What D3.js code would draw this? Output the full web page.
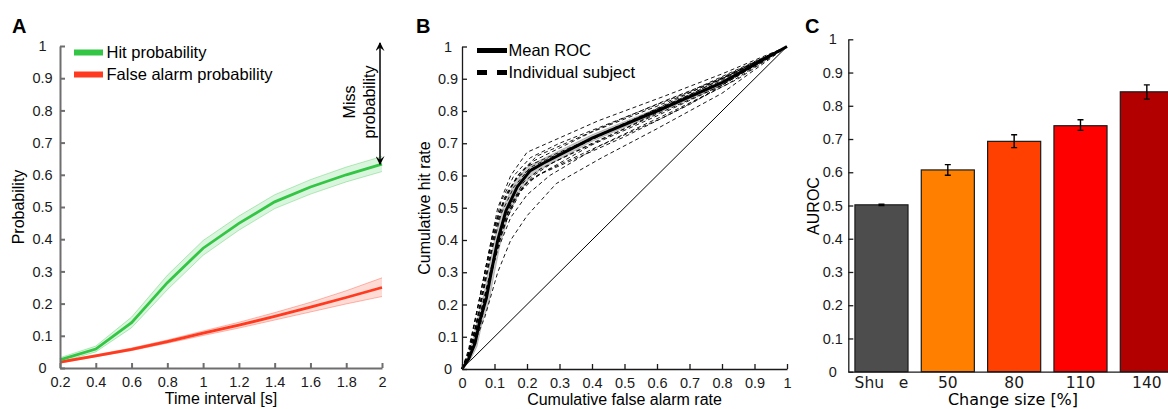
<!DOCTYPE html>
<html>
<head>
<meta charset="utf-8">
<script src="https://cdn.jsdelivr.net/npm/d3@7"></script>
<style>
  html, body { margin: 0; padding: 0; background: #fff; }
  svg { display: block; font-family: "Liberation Sans", Arial, sans-serif; }
</style>
</head>
<body>
<svg id="fig" width="1168" height="409"></svg>
<script>
// ---------- Panel A: detection probabilities over time ----------
const timeIntervals = [0.2, 0.4, 0.6, 0.8, 1.0, 1.2, 1.4, 1.6, 1.8, 2.0];
const hitProb   = [0.025, 0.059, 0.141, 0.265, 0.372, 0.449, 0.516, 0.562, 0.600, 0.633];
const hitLow    = [0.018, 0.050, 0.125, 0.243, 0.350, 0.428, 0.495, 0.540, 0.578, 0.610];
const hitHigh   = [0.032, 0.068, 0.158, 0.288, 0.396, 0.472, 0.538, 0.585, 0.624, 0.657];
const faProb    = [0.018, 0.038, 0.058, 0.082, 0.108, 0.133, 0.160, 0.189, 0.219, 0.250];
const faLow     = [0.015, 0.035, 0.054, 0.077, 0.101, 0.124, 0.149, 0.174, 0.199, 0.222];
const faHigh    = [0.021, 0.041, 0.062, 0.087, 0.115, 0.142, 0.172, 0.204, 0.240, 0.280];
const timeTicks = [0.2, 0.4, 0.6, 0.8, 1, 1.2, 1.4, 1.6, 1.8, 2];
const probTicks = [0, 0.1, 0.2, 0.3, 0.4, 0.5, 0.6, 0.7, 0.8, 0.9, 1];
const legendA   = ["Hit probability", "False alarm probability"];

// ---------- Panel B: ROC curves ([false alarm rate, hit rate]) ----------
const meanRoc = [[0,0],[0.02,0.03],[0.04,0.08],[0.055,0.15],[0.075,0.22],[0.09,0.3],[0.11,0.4],
  [0.135,0.49],[0.17,0.565],[0.21,0.615],[0.25,0.638],[0.4,0.716],[0.6,0.8],[0.8,0.888],[1,1]];
const meanRocUpper = [[0,0],[0.016,0.035],[0.034,0.09],[0.049,0.16],[0.068,0.235],[0.083,0.315],[0.103,0.415],
  [0.127,0.503],[0.162,0.578],[0.203,0.628],[0.245,0.65],[0.4,0.726],[0.6,0.808],[0.8,0.894],[1,1]];
const meanRocLower = [[0,0],[0.024,0.025],[0.046,0.07],[0.061,0.14],[0.082,0.205],[0.097,0.285],[0.117,0.385],
  [0.143,0.477],[0.178,0.552],[0.217,0.602],[0.255,0.626],[0.4,0.706],[0.6,0.792],[0.8,0.882],[1,1]];
const subject01 = [[0,0],[0.02,0.05],[0.05,0.2],[0.08,0.35],[0.11,0.5],[0.15,0.6],[0.2,0.672],[0.42,0.77],[0.62,0.845],[0.8,0.915],[1,1]];
const subject02 = [[0,0],[0.03,0.06],[0.07,0.16],[0.11,0.3],[0.15,0.4],[0.2,0.475],[0.29,0.575],[0.43,0.655],[0.6,0.745],[0.8,0.855],[1,1]];
const subject03 = [[0,0],[0.02,0.04],[0.05,0.17],[0.08,0.32],[0.1,0.42],[0.13,0.52],[0.17,0.6],[0.22,0.645],[0.4,0.735],[0.6,0.815],[0.8,0.9],[1,1]];
const subject04 = [[0,0],[0.025,0.05],[0.06,0.18],[0.09,0.3],[0.12,0.42],[0.15,0.51],[0.19,0.58],[0.24,0.62],[0.4,0.7],[0.6,0.79],[0.8,0.88],[1,1]];
const subject05 = [[0,0],[0.02,0.05],[0.045,0.14],[0.07,0.26],[0.095,0.38],[0.12,0.48],[0.16,0.565],[0.21,0.625],[0.26,0.65],[0.45,0.74],[0.7,0.85],[1,1]];
const subject06 = [[0,0],[0.03,0.06],[0.065,0.2],[0.095,0.32],[0.125,0.43],[0.16,0.52],[0.2,0.58],[0.26,0.615],[0.45,0.705],[0.65,0.8],[0.85,0.9],[1,1]];
const subject07 = [[0,0],[0.02,0.04],[0.04,0.12],[0.06,0.23],[0.085,0.36],[0.11,0.47],[0.14,0.55],[0.18,0.61],[0.23,0.66],[0.42,0.745],[0.62,0.83],[0.82,0.91],[1,1]];
const subject08 = [[0,0],[0.03,0.05],[0.06,0.15],[0.085,0.27],[0.11,0.38],[0.14,0.47],[0.18,0.55],[0.23,0.6],[0.3,0.63],[0.5,0.72],[0.7,0.82],[1,1]];
const subject09 = [[0,0],[0.02,0.06],[0.05,0.2],[0.075,0.32],[0.1,0.44],[0.13,0.53],[0.17,0.595],[0.23,0.63],[0.45,0.735],[0.7,0.85],[1,1]];
const subject10 = [[0,0],[0.025,0.04],[0.05,0.13],[0.08,0.27],[0.1,0.36],[0.13,0.46],[0.17,0.54],[0.22,0.6],[0.28,0.64],[0.5,0.745],[0.75,0.87],[1,1]];
const subject11 = [[0,0],[0.02,0.05],[0.05,0.16],[0.075,0.29],[0.1,0.41],[0.12,0.5],[0.16,0.58],[0.2,0.628],[0.25,0.65],[0.5,0.76],[0.75,0.88],[1,1]];
const subject12 = [[0,0],[0.03,0.07],[0.06,0.19],[0.09,0.31],[0.115,0.41],[0.145,0.5],[0.19,0.57],[0.25,0.61],[0.4,0.695],[0.6,0.785],[0.8,0.88],[1,1]];
const subject13 = [[0,0],[0.02,0.05],[0.045,0.17],[0.07,0.3],[0.095,0.42],[0.12,0.52],[0.16,0.6],[0.21,0.655],[0.3,0.7],[0.5,0.78],[0.7,0.86],[1,1]];
const subject14 = [[0,0],[0.025,0.05],[0.055,0.16],[0.08,0.26],[0.11,0.37],[0.15,0.47],[0.2,0.54],[0.27,0.6],[0.42,0.69],[0.62,0.78],[0.82,0.885],[1,1]];
const subjects = [subject01, subject02, subject03, subject04, subject05, subject06, subject07,
  subject08, subject09, subject10, subject11, subject12, subject13, subject14];
const chanceLine = [[0,0],[1,1]];
const rateTicks = [0, 0.1, 0.2, 0.3, 0.4, 0.5, 0.6, 0.7, 0.8, 0.9, 1];
const legendB = ["Mean ROC", "Individual subject"];

// ---------- Panel C: area under ROC per change size ----------
const changeSizes = ["Shuffle", "50", "80", "110", "140"];
const changeTickLabels = ["Shu   e", "50", "80", "110", "140"];
const aurocMean = [0.502, 0.607, 0.693, 0.740, 0.842];
const aurocLow  = [0.500, 0.591, 0.674, 0.726, 0.820];
const aurocHigh = [0.504, 0.623, 0.713, 0.758, 0.863];
const barColors = ["#4d4d4d", "#ff8000", "#ff4000", "#ff0000", "#b20000"];
const aurocTicks = [0, 0.1, 0.2, 0.3, 0.4, 0.5, 0.6, 0.7, 0.8, 0.9, 1];

const svg = d3.select("#fig");
const fmt = d => (Number.isInteger(d) ? String(d) : d.toFixed(1));
const GREEN = "#33c544", RED = "#ff3a1e";

function styleAxis(g, color, width, size) {
  g.select(".domain").attr("stroke", color).attr("stroke-width", width);
  g.selectAll(".tick line").attr("stroke", color).attr("stroke-width", width);
  g.selectAll(".tick text").attr("fill", "#1a1a1a").attr("font-size", size)
    .attr("font-family", "'Liberation Sans', Arial, sans-serif");
}
// y tick labels are centred in a column left of the axis
function centreYLabels(g, offset) {
  g.selectAll(".tick text").attr("text-anchor", "middle").attr("x", -offset);
}

function panelLetter(x, y, t) {
  svg.append("text").attr("x", x).attr("y", y).text(t)
    .attr("font-size", 20).attr("font-weight", "bold").attr("fill", "#000");
}

// ================= Panel A =================
{
  const x = d3.scaleLinear().domain([0.2, 2]).range([60, 382]);
  const y = d3.scaleLinear().domain([0, 1]).range([368, 46]);
  const g = svg.append("g");

  const area = (lo, hi) => d3.area()
    .x((d, i) => x(timeIntervals[i])).y0((d, i) => y(lo[i])).y1((d, i) => y(hi[i]));
  const line = vals => d3.line().x((d, i) => x(timeIntervals[i])).y((d, i) => y(vals[i]));

  [[hitLow, hitHigh, GREEN], [faLow, faHigh, RED]].forEach(([lo, hi, c]) => {
    g.append("path").datum(lo).attr("d", area(lo, hi)).attr("fill", c).attr("fill-opacity", 0.18);
    g.append("path").datum(lo).attr("d", line(lo)).attr("fill", "none").attr("stroke", c).attr("stroke-opacity", 0.35).attr("stroke-width", 1);
    g.append("path").datum(hi).attr("d", line(hi)).attr("fill", "none").attr("stroke", c).attr("stroke-opacity", 0.35).attr("stroke-width", 1);
  });
  g.append("path").datum(faProb).attr("d", line(faProb)).attr("fill", "none").attr("stroke", RED).attr("stroke-width", 2.8);
  g.append("path").datum(hitProb).attr("d", line(hitProb)).attr("fill", "none").attr("stroke", GREEN).attr("stroke-width", 2.8);

  const ax = g.append("g").attr("transform", "translate(0,368)")
    .call(d3.axisBottom(x).tickValues(timeTicks).tickFormat(fmt).tickSizeInner(-5).tickSizeOuter(0).tickPadding(9));
  styleAxis(ax, "#6e6e6e", 2, 14.5);
  const ay = g.append("g").attr("transform", "translate(60,0)")
    .call(d3.axisLeft(y).tickValues(probTicks).tickFormat(fmt).tickSizeInner(-5).tickSizeOuter(0));
  styleAxis(ay, "#6e6e6e", 2, 14.5);
  centreYLabels(ay, 17.5);

  g.append("text").attr("x", 221).attr("y", 404).attr("text-anchor", "middle")
    .attr("font-size", 16).text("Time interval [s]");
  g.append("text").attr("transform", "translate(24,207) rotate(-90)").attr("text-anchor", "middle")
    .attr("font-size", 16).text("Probability");

  // legend
  [[GREEN, 52.5], [RED, 74.5]].forEach(([c, yy], i) => {
    g.append("line").attr("x1", 74).attr("x2", 103).attr("y1", yy).attr("y2", yy)
      .attr("stroke", c).attr("stroke-width", 6);
    g.append("text").attr("x", 106.5).attr("y", yy + 5.8).attr("font-size", 16.5).text(legendA[i]);
  });

  // miss-probability arrow from the last hit value up to 1
  const ax2 = x(2) - 2;
  const defs = svg.append("defs");
  defs.append("marker").attr("id", "arrowHead").attr("viewBox", "0 0 10 10").attr("refX", 9).attr("refY", 5)
    .attr("markerWidth", 9).attr("markerHeight", 9).attr("markerUnits", "userSpaceOnUse").attr("orient", "auto-start-reverse")
    .append("path").attr("d", "M0,0 L10,5 L0,10 L4,5 Z").attr("fill", "#000");
  g.append("line").attr("x1", ax2).attr("x2", ax2).attr("y1", y(1) - 3).attr("y2", y(hitProb[hitProb.length - 1]))
    .attr("stroke", "#000").attr("stroke-width", 1.5)
    .attr("marker-start", "url(#arrowHead)").attr("marker-end", "url(#arrowHead)");
  const missT = g.append("text").attr("transform", "translate(357,102) rotate(-90)").attr("text-anchor", "middle").attr("font-size", 16);
  missT.append("tspan").attr("x", 0).attr("dy", "-0.1em").text("Miss");
  missT.append("tspan").attr("x", 0).attr("dy", "1.2em").text("probability");

  panelLetter(12, 33, "A");
}

// ================= Panel B =================
{
  const x = d3.scaleLinear().domain([0, 1]).range([462, 787]);
  const y = d3.scaleLinear().domain([0, 1]).range([369, 46.5]);
  const g = svg.append("g");
  const line = d3.line().x(d => x(d[0])).y(d => y(d[1]));

  g.append("path").datum(chanceLine).attr("d", line).attr("fill", "none").attr("stroke", "#000").attr("stroke-width", 1);

  const bandPts = meanRocUpper.concat(meanRocLower.slice().reverse());
  g.append("path").datum(bandPts).attr("d", d3.line().x(d => x(d[0])).y(d => y(d[1])).curve(d3.curveLinearClosed))
    .attr("fill", "#b8b8b8").attr("fill-opacity", 0.75).attr("stroke", "#999").attr("stroke-width", 0.6);

  g.selectAll(".subj").data(subjects).join("path").attr("class", "subj")
    .attr("d", line).attr("fill", "none").attr("stroke", "#000").attr("stroke-width", 0.9)
    .attr("stroke-dasharray", "4,3");

  g.append("path").datum(meanRoc).attr("d", line).attr("fill", "none").attr("stroke", "#000").attr("stroke-width", 3);

  const ax = g.append("g").attr("transform", "translate(0,369)")
    .call(d3.axisBottom(x).tickValues(rateTicks).tickFormat(fmt).tickSizeInner(-5).tickSizeOuter(0).tickPadding(9));
  styleAxis(ax, "#1a1a1a", 1.3, 14.5);
  const ay = g.append("g").attr("transform", "translate(462,0)")
    .call(d3.axisLeft(y).tickValues(rateTicks).tickFormat(fmt).tickSizeInner(-5).tickSizeOuter(0));
  styleAxis(ay, "#1a1a1a", 1.3, 14.5);
  centreYLabels(ay, 14);

  g.append("text").attr("x", 624.5).attr("y", 405).attr("text-anchor", "middle")
    .attr("font-size", 16).text("Cumulative false alarm rate");
  g.append("text").attr("transform", "translate(430,208) rotate(-90)").attr("text-anchor", "middle")
    .attr("font-size", 16).text("Cumulative hit rate");

  // legend
  g.append("line").attr("x1", 477).attr("x2", 507).attr("y1", 50.5).attr("y2", 50.5)
    .attr("stroke", "#000").attr("stroke-width", 5);
  g.append("line").attr("x1", 477).attr("x2", 507).attr("y1", 72.5).attr("y2", 72.5)
    .attr("stroke", "#000").attr("stroke-width", 5).attr("stroke-dasharray", "10,10");
  legendB.forEach((t, i) => g.append("text").attr("x", 508.5).attr("y", 56.3 + i * 22).attr("font-size", 16.5).text(t));

  panelLetter(416, 33, "B");
}

// ================= Panel C =================
{
  const x = d3.scaleBand().domain(changeSizes).range([848.3, 1180]).paddingInner(0.2).paddingOuter(0.1);
  const y = d3.scaleLinear().domain([0, 1]).range([371.7, 39.3]);
  const g = svg.append("g");

  g.selectAll(".bar").data(changeSizes).join("rect").attr("class", "bar")
    .attr("x", d => x(d)).attr("width", x.bandwidth())
    .attr("y", (d, i) => y(aurocMean[i])).attr("height", (d, i) => y(0) - y(aurocMean[i]))
    .attr("fill", (d, i) => barColors[i]).attr("stroke", "#1a1a1a").attr("stroke-width", 1.2);

  const cx = d => x(d) + x.bandwidth() / 2;
  g.selectAll(".err").data(changeSizes).join("path").attr("class", "err")
    .attr("d", (d, i) => {
      const c = cx(d), lo = y(aurocLow[i]), hi = y(aurocHigh[i]);
      return `M${c - 3},${hi}H${c + 3}M${c},${hi}V${lo}M${c - 3},${lo}H${c + 3}`;
    })
    .attr("fill", "none").attr("stroke", "#000").attr("stroke-width", 1.4);

  const ax = g.append("g").attr("transform", "translate(0,371.7)")
    .call(d3.axisBottom(x).tickFormat((d, i) => changeTickLabels[i]).tickSize(0).tickPadding(5));
  styleAxis(ax, "#1a1a1a", 1.3, 16);
  ax.selectAll(".tick text").attr("font-family", "'DejaVu Sans', sans-serif").attr("font-size", 15.5)
    .style("white-space", "pre").attr("xml:space", "preserve");
  const ay = g.append("g").attr("transform", "translate(848.3,0)")
    .call(d3.axisLeft(y).tickValues(aurocTicks).tickFormat(fmt).tickSizeInner(-5).tickSizeOuter(0));
  styleAxis(ay, "#1a1a1a", 1.3, 14.5);
  centreYLabels(ay, 15.5);

  g.append("text").attr("x", 1013).attr("y", 405).attr("text-anchor", "middle")
    .attr("font-family", "'DejaVu Sans', sans-serif").attr("font-size", 16).text("Change size [%]");
  g.append("text").attr("transform", "translate(819,206) rotate(-90)").attr("text-anchor", "middle")
    .attr("font-size", 16).text("AUROC");

  panelLetter(805, 33, "C");
}
</script>
</body>
</html>
